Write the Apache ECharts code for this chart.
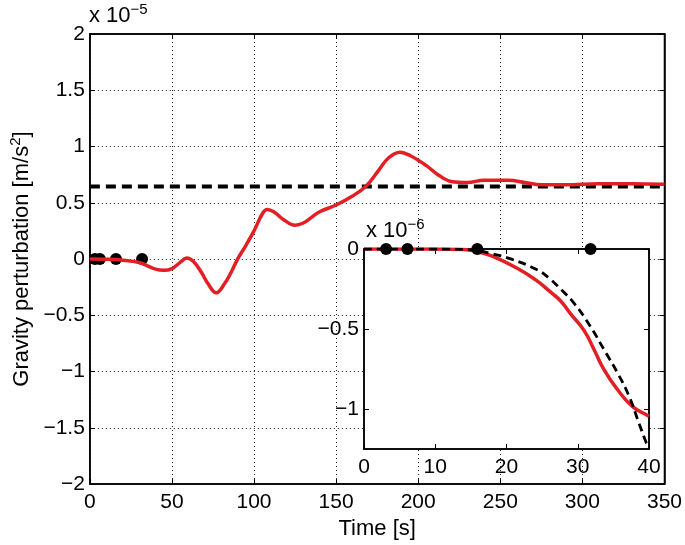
<!DOCTYPE html>
<html>
<head>
<meta charset="utf-8">
<script src="https://cdn.jsdelivr.net/npm/echarts@6/dist/echarts.min.js"></script>
<style>
  html, body { margin: 0; padding: 0; background: #fff; }
  #main { width: 685px; height: 545px; }
</style>
</head>
<body>
<div id="main"></div>
<script>
/* main plot: time [s] vs gravity perturbation (x 1e-5 m/s^2) */
var mainTime = [0, 10, 20, 30, 35, 40, 45, 50, 55, 59, 63, 68, 72, 77, 82, 86, 90, 95, 100, 105, 108, 112, 118, 125, 130, 135, 140, 150, 160, 168, 175, 182, 189, 195, 205, 212, 220, 230, 240, 255, 265, 275, 290, 310, 330, 350];
var mainGrav = [0, -0.002, -0.01, -0.03, -0.06, -0.09, -0.1, -0.085, -0.03, 0.01, -0.02, -0.12, -0.22, -0.3, -0.22, -0.12, 0.0, 0.12, 0.25, 0.4, 0.44, 0.42, 0.35, 0.3, 0.32, 0.37, 0.42, 0.48, 0.56, 0.645, 0.77, 0.9, 0.95, 0.92, 0.83, 0.75, 0.69, 0.68, 0.7, 0.7, 0.68, 0.66, 0.66, 0.67, 0.67, 0.665];
var refLevel = 0.645;           // dashed final level
var stationTimes = [3.1, 6.1, 15.9, 31.8];

/* inset: first 40 s, x 1e-6 m/s^2 */
var insetTime = [0, 5, 10, 14, 16, 18, 21.5, 24, 26.2, 27.6, 29, 30.9, 32.3, 33.7, 35.6, 37.7, 39.8, 40];
var insetRed  = [0, 0, 0, -0.003, -0.017, -0.045, -0.12, -0.19, -0.27, -0.325, -0.405, -0.51, -0.63, -0.756, -0.88, -0.985, -1.04, -1.045];
var insetDashTime = [0, 5, 10, 15, 17.7, 20.6, 24.3, 25.9, 27.7, 29.5, 31.8, 33.7, 35.6, 37.2, 38.6, 39.6, 40];
var insetDash = [0, 0, 0, -0.005, -0.027, -0.062, -0.13, -0.18, -0.255, -0.34, -0.486, -0.63, -0.776, -0.92, -1.09, -1.21, -1.25];
var insetYTicks = [-1, -0.5, 0];

var font = 'Liberation Sans, Arial, sans-serif';
var red = '#e31e24';

function pairs(xs, ys) { return xs.map(function (x, i) { return [x, ys[i]]; }); }
function fmt(v) { var s = String(+v.toFixed(2)); return s.replace('-', '\u2212'); }

var chart = echarts.init(document.getElementById('main'));

var baseAxis = {
    axisLine: { show: true, onZero: false, lineStyle: { color: '#000', width: 1.5 } },
    axisTick: { show: true, inside: true, length: 5, lineStyle: { color: '#000' } },
    axisLabel: { color: '#000', fontSize: 21, fontFamily: font, formatter: fmt },
    splitLine: { show: false }
};
function ax(extra) { return echarts.util.merge(echarts.util.clone(baseAxis), extra, true); }

var dotted = { show: true, lineStyle: { color: '#222', width: 1, type: [1, 3] } };

chart.setOption({
    animation: false,
    backgroundColor: '#fff',
    grid: [
        { left: 88, right: 19, top: 34, bottom: 56, show: true, borderColor: '#000', borderWidth: 1.5 },
        { left: 364, right: 36, top: 249, bottom: 96, show: true, borderColor: '#000', borderWidth: 1.5,
          backgroundColor: '#fff', z: 5 }
    ],
    xAxis: [
        ax({ gridIndex: 0, type: 'value', min: 0, max: 350, interval: 50,
             name: 'Time [s]', nameLocation: 'middle', nameGap: 29,
             nameTextStyle: { color: '#000', fontSize: 22, fontFamily: font },
             axisLabel: { margin: 8 }, splitLine: dotted }),
        ax({ gridIndex: 0, type: 'value', position: 'top', min: 0, max: 350, interval: 50,
             axisLabel: { show: false } }),
        ax({ gridIndex: 1, type: 'value', min: 0, max: 40, interval: 10, z: 6,
             axisLabel: { margin: 8 } }),
        ax({ gridIndex: 1, type: 'value', position: 'top', min: 0, max: 40, interval: 10, z: 6,
             axisLabel: { show: false } })
    ],
    yAxis: [
        ax({ gridIndex: 0, type: 'value', min: -2, max: 2, interval: 0.5,
             name: 'Gravity perturbation [m/s{sup|2}]', nameLocation: 'middle', nameGap: 54,
             nameTextStyle: { color: '#000', fontSize: 22, fontFamily: font,
                 rich: { sup: { fontSize: 15, fontFamily: font, color: '#000', verticalAlign: 'top', padding: [0, 0, 12, 0] } } },
             axisLabel: { margin: 5 }, splitLine: dotted }),
        ax({ gridIndex: 0, type: 'value', position: 'right', min: -2, max: 2, interval: 0.5,
             axisLabel: { show: false } }),
        ax({ gridIndex: 1, type: 'value', min: -1.25, max: 0, z: 6,
             axisTick: { customValues: insetYTicks },
             axisLabel: { margin: 5, customValues: insetYTicks } }),
        ax({ gridIndex: 1, type: 'value', position: 'right', min: -1.25, max: 0, z: 6,
             axisTick: { customValues: insetYTicks }, axisLabel: { show: false } })
    ],
    graphic: [
        { type: 'text', left: 89, top: 2, z: 10,
          style: { text: 'x 10{s|\u22125}', fill: '#000', font: '22px ' + font,
                   rich: { s: { fontSize: 15, fontFamily: font, fill: '#000', verticalAlign: 'top', padding: [0, 0, 12, 0] } } } },
        { type: 'text', left: 366, top: 217, z: 10,
          style: { text: 'x 10{s|\u22126}', fill: '#000', font: '22px ' + font,
                   rich: { s: { fontSize: 15, fontFamily: font, fill: '#000', verticalAlign: 'top', padding: [0, 0, 12, 0] } } } }
    ],
    series: [
        { type: 'line', xAxisIndex: 0, yAxisIndex: 0, data: [[0, refLevel], [350, refLevel]],
          symbol: 'none', lineStyle: { color: '#000', width: 4, type: [10, 6] } },
        { type: 'line', xAxisIndex: 0, yAxisIndex: 0, data: pairs(mainTime, mainGrav),
          symbol: 'none', smooth: 0.4, lineStyle: { color: red, width: 3.5 } },
        { type: 'scatter', xAxisIndex: 0, yAxisIndex: 0, data: stationTimes.map(function (t) { return [t, 0]; }),
          symbolSize: 12, itemStyle: { color: '#000', opacity: 1 } },
        { type: 'line', xAxisIndex: 2, yAxisIndex: 2, z: 7, data: pairs(insetTime, insetRed),
          symbol: 'none', smooth: 0.5, lineStyle: { color: red, width: 3.5 } },
        { type: 'line', xAxisIndex: 2, yAxisIndex: 2, z: 8, data: pairs(insetDashTime, insetDash),
          symbol: 'none', smooth: 0.5, lineStyle: { color: '#000', width: 2.8, type: [8, 5] } },
        { type: 'scatter', xAxisIndex: 2, yAxisIndex: 2, z: 9, data: stationTimes.map(function (t) { return [t, 0]; }),
          symbolSize: 12, clip: false, itemStyle: { color: '#000', opacity: 1 } }
    ]
});
</script>
</body>
</html>
